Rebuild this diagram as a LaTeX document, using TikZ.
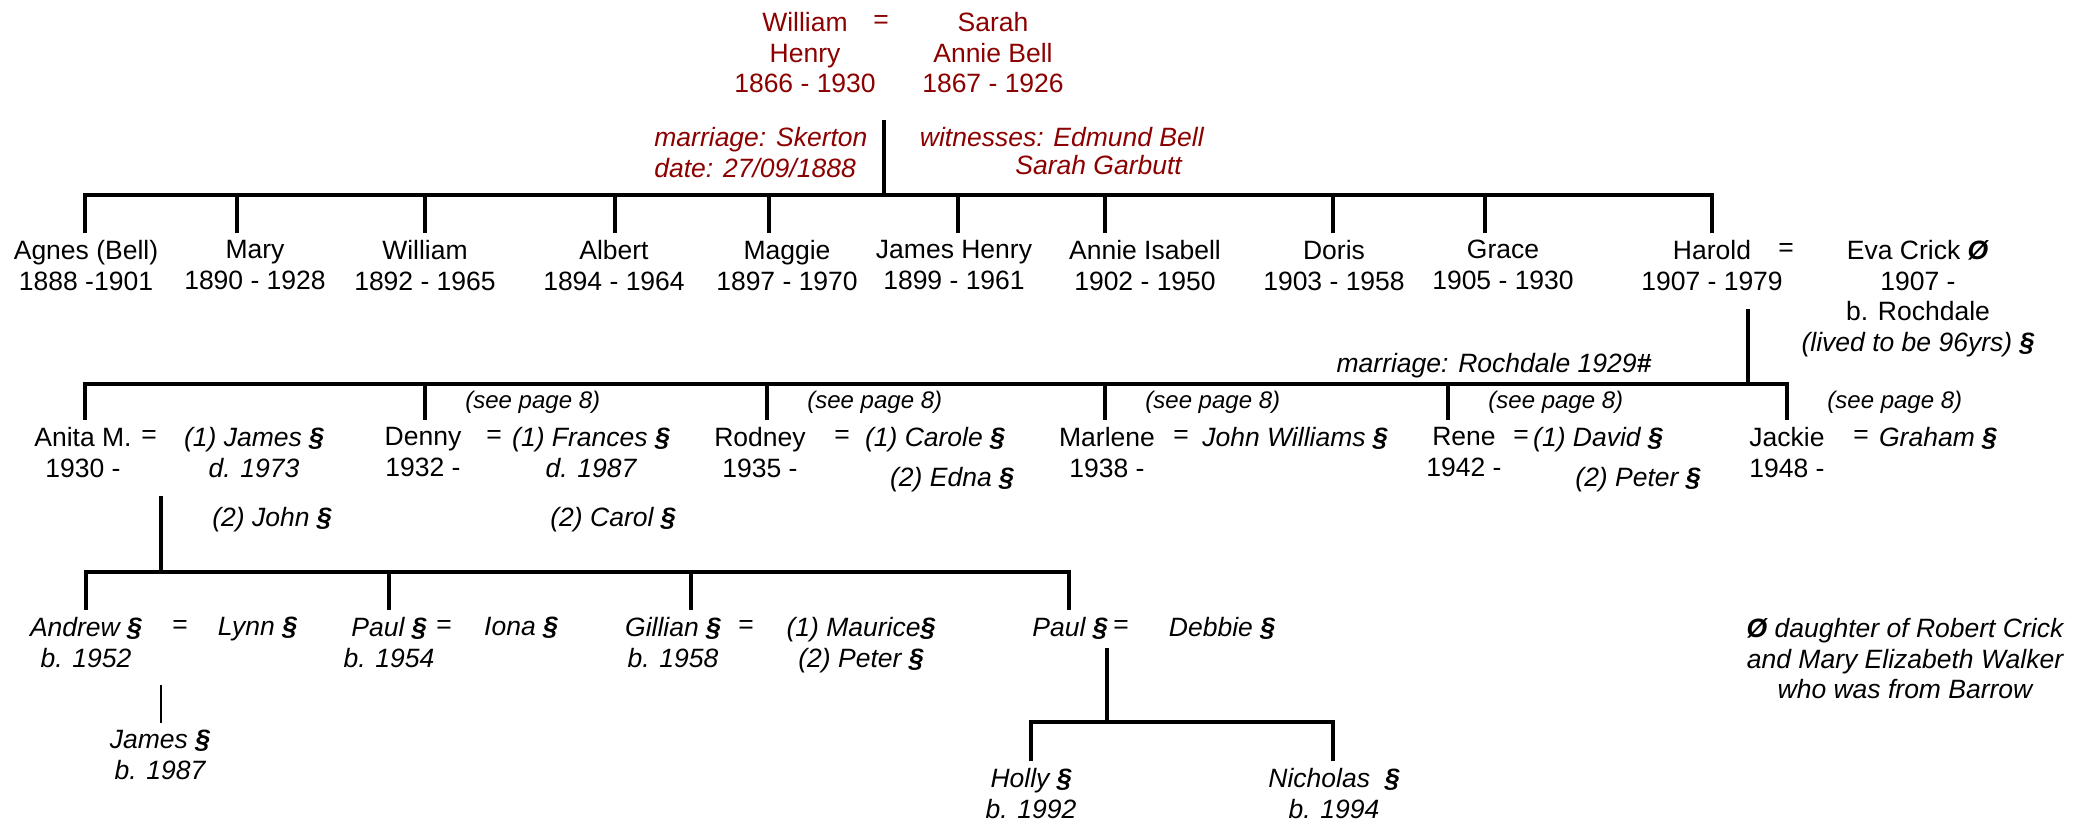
\documentclass[tikz,border=0pt]{standalone}
\usepackage{fontspec}
\setmainfont{Liberation Sans}
\definecolor{wred}{RGB}{140,0,0}
\begin{document}
\begin{tikzpicture}[x=0.5pt,y=-0.5pt,
  every node/.style={font=\fontsize{13.25pt}{15.25pt}\selectfont, inner xsep=0pt},
  per/.style={align=center, anchor=north, inner ysep=3.75pt},
  lab/.style={anchor=base, inner sep=0pt},
  eqs/.style={anchor=center, inner sep=0pt},
  it/.style={font=\fontsize{13.25pt}{15.25pt}\selectfont\itshape},
  see/.style={anchor=base west, inner sep=0pt, font=\fontsize{12pt}{14pt}\selectfont\itshape},
  ln/.style={line width=2pt, line join=miter},
  thinln/.style={line width=1.25pt}
]
\fill[white] (0,0) rectangle (2091,820);
\useasboundingbox (0,0) rectangle (2091,820);

% ---------- top couple ----------
\node[per, text=wred] (wh) at (805,4.5) {William\\Henry\\1866 - 1930};
\node[eqs, text=wred] (eq0) at (881,22) {=};
\node[per, text=wred] (sab) at (993,4.5) {Sarah\\Annie Bell\\1867 - 1926};
\node[per, it, text=wred, align=left, anchor=north west] (mar0) at (654,119.5) {marriage: Skerton\\date: 27/09/1888};
\node[lab, it, text=wred, anchor=base west] (wit1) at (919.5,146.5) {witnesses: Edmund Bell};
\node[lab, it, text=wred, anchor=base west] (wit2) at (1015,174.5) {Sarah Garbutt};

% ---------- generation 2 ----------
\node[per] (agnes) at (86,232.5) {Agnes (Bell)\\1888 -1901};
\node[per] (mary) at (255,232.5) {Mary\\1890 - 1928};
\node[per] (william) at (425,232.5) {William\\1892 - 1965};
\node[per] (albert) at (614,232.5) {Albert\\1894 - 1964};
\node[per] (maggie) at (787,232.5) {Maggie\\1897 - 1970};
\node[per] (jameshenry) at (954,232.5) {James Henry\\1899 - 1961};
\node[per] (annie) at (1145,232.5) {Annie Isabell\\1902 - 1950};
\node[per] (doris) at (1334,232.5) {Doris\\1903 - 1958};
\node[per] (grace) at (1503,232.5) {Grace\\1905 - 1930};
\node[per] (harold) at (1712,232.5) {Harold\\1907 - 1979};
\node[eqs] (eq1) at (1786,250) {=};
\node[per] (eva) at (1918,232.5) {Eva Crick \textbf{\itshape Ø}\\1907 -\\b. Rochdale\\\textit{(lived to be 96yrs) \textbf{§}}};
\node[lab, it] (marr2) at (1494,372.5) {marriage: Rochdale 1929\textbf{\#}};

% ---------- generation 3 ----------
\node[per] (anita) at (83,419.5) {Anita M.\\1930 -};
\node[eqs] (eq2) at (149,437) {=};
\node[per, it] (james1) at (254,419.5) {(1) James \textbf{§}\\d. 1973};
\node[per, it] (john2) at (272,499.5) {(2) John \textbf{§}};
\node[per] (denny) at (423,419.5) {Denny\\1932 -};
\node[eqs] (eq3) at (494,437) {=};
\node[per, it] (frances) at (591,419.5) {(1) Frances \textbf{§}\\d. 1987};
\node[per, it] (carol) at (613,499.5) {(2) Carol \textbf{§}};
\node[per] (rodney) at (760,419.5) {Rodney\\1935 -};
\node[eqs] (eq4) at (842,437) {=};
\node[per, it] (carole) at (935,419.5) {(1) Carole \textbf{§}};
\node[per, it] (edna) at (952,459.5) {(2) Edna \textbf{§}};
\node[per] (marlene) at (1107,419.5) {Marlene\\1938 -};
\node[eqs] (eq5) at (1181,437) {=};
\node[per, it] (johnw) at (1295,419.5) {John Williams \textbf{§}};
\node[per] (rene) at (1464,419.5) {Rene\\1942 -};
\node[eqs] (eq6) at (1521,437) {=};
\node[per, it] (david) at (1598,419.5) {(1) David \textbf{§}};
\node[per, it] (peter1) at (1638,459.5) {(2) Peter \textbf{§}};
\node[per] (jackie) at (1787,419.5) {Jackie\\1948 -};
\node[eqs] (eq7) at (1861,437) {=};
\node[per, it] (graham) at (1938,419.5) {Graham \textbf{§}};

\node[see] (see1) at (465,408.6) {(see page 8)};
\node[see] (see2) at (807,408.6) {(see page 8)};
\node[see] (see3) at (1145,408.6) {(see page 8)};
\node[see] (see4) at (1488,408.6) {(see page 8)};
\node[see] (see5) at (1827,408.6) {(see page 8)};

% ---------- generation 4 ----------
\node[per, it] (andrew) at (86,609.5) {Andrew \textbf{§}\\b. 1952};
\node[eqs] (eq8) at (180,627) {=};
\node[per, it] (lynn) at (257.5,609.5) {Lynn \textbf{§}};
\node[per, it] (paul1) at (389,609.5) {Paul \textbf{§}\\b. 1954};
\node[eqs] (eq9) at (444,627) {=};
\node[per, it] (iona) at (521,609.5) {Iona \textbf{§}};
\node[per, it] (gillian) at (673,609.5) {Gillian \textbf{§}\\b. 1958};
\node[eqs] (eq10) at (746,627) {=};
\node[per, it] (maurice) at (861,609.5) {(1) Maurice\textbf{§}\\(2) Peter \textbf{§}};
\node[per, it] (paul2) at (1070,609.5) {Paul \textbf{§}};
\node[eqs] (eq11) at (1121,627) {=};
\node[per, it] (debbie) at (1222,609.5) {Debbie \textbf{§}};

% ---------- generation 5 ----------
\node[per, it] (james3) at (160,722.5) {James \textbf{§}\\b. 1987};
\node[per, it] (holly) at (1031,760.5) {Holly \textbf{§}\\b. 1992};
\node[per, it] (nicholas) at (1334,760.5) {Nicholas\ \ \textbf{§}\\b. 1994};

% ---------- note ----------
\node[per, it] (note) at (1905,610.5) {\textbf{Ø} daughter of Robert Crick\\and Mary Elizabeth Walker\\who was from Barrow};

% ---------- connectors ----------
\coordinate (wsfam) at (884,120);
\coordinate (g2hub) at (884,195);
\coordinate (d2a) at (85,195);
\coordinate (d2b) at (237,195);
\coordinate (d2c) at (425,195);
\coordinate (d2d) at (614.5,195);
\coordinate (d2e) at (768.5,195);
\coordinate (d2f) at (958,195);
\coordinate (d2g) at (1105,195);
\coordinate (d2h) at (1333,195);
\coordinate (d2i) at (1485,195);
\coordinate (d2j) at (1712,195);
\draw[ln] (wsfam) -- (g2hub);
\draw[ln] (d2a |- agnes.north) -- (d2a) -- (d2j) -- (d2j |- harold.north);
\foreach \d/\n in {d2b/mary,d2c/william,d2d/albert,d2e/maggie,d2f/jameshenry,d2g/annie,d2h/doris,d2i/grace}
  \draw[ln] (\d) -- (\d |- \n.north);

\coordinate (haroldfam) at (1748,309);
\coordinate (g3hub) at (1748,384);
\coordinate (d3a) at (85,384);
\coordinate (d3b) at (425,384);
\coordinate (d3c) at (767,384);
\coordinate (d3d) at (1105,384);
\coordinate (d3e) at (1448,384);
\coordinate (d3f) at (1787,384);
\draw[ln] (haroldfam) -- (g3hub);
\draw[ln] (d3a |- anita.north) -- (d3a) -- (d3f) -- (d3f |- jackie.north);
\foreach \d/\n in {d3b/denny,d3c/rodney,d3d/marlene,d3e/rene}
  \draw[ln] (\d) -- (\d |- \n.north);

\coordinate (anitafam) at (161,496);
\coordinate (g4hub) at (161,572);
\coordinate (d4a) at (86,572);
\coordinate (d4b) at (389,572);
\coordinate (d4c) at (691,572);
\coordinate (d4d) at (1069,572);
\draw[ln] (anitafam) -- (g4hub);
\draw[ln] (d4a |- andrew.north) -- (d4a) -- (d4d) -- (d4d |- paul2.north);
\foreach \d/\n in {d4b/paul1,d4c/gillian}
  \draw[ln] (\d) -- (\d |- \n.north);

\coordinate (andrewfam) at (161,685);
\draw[thinln] (andrewfam) -- (andrewfam |- james3.north);

\coordinate (paulfam) at (1107,648);
\coordinate (g5hub) at (1107,722);
\coordinate (d5a) at (1031,722);
\coordinate (d5b) at (1333,722);
\draw[ln] (paulfam) -- (g5hub);
\draw[ln] (d5a |- holly.north) -- (d5a) -- (d5b) -- (d5b |- nicholas.north);
\end{tikzpicture}
\end{document}
